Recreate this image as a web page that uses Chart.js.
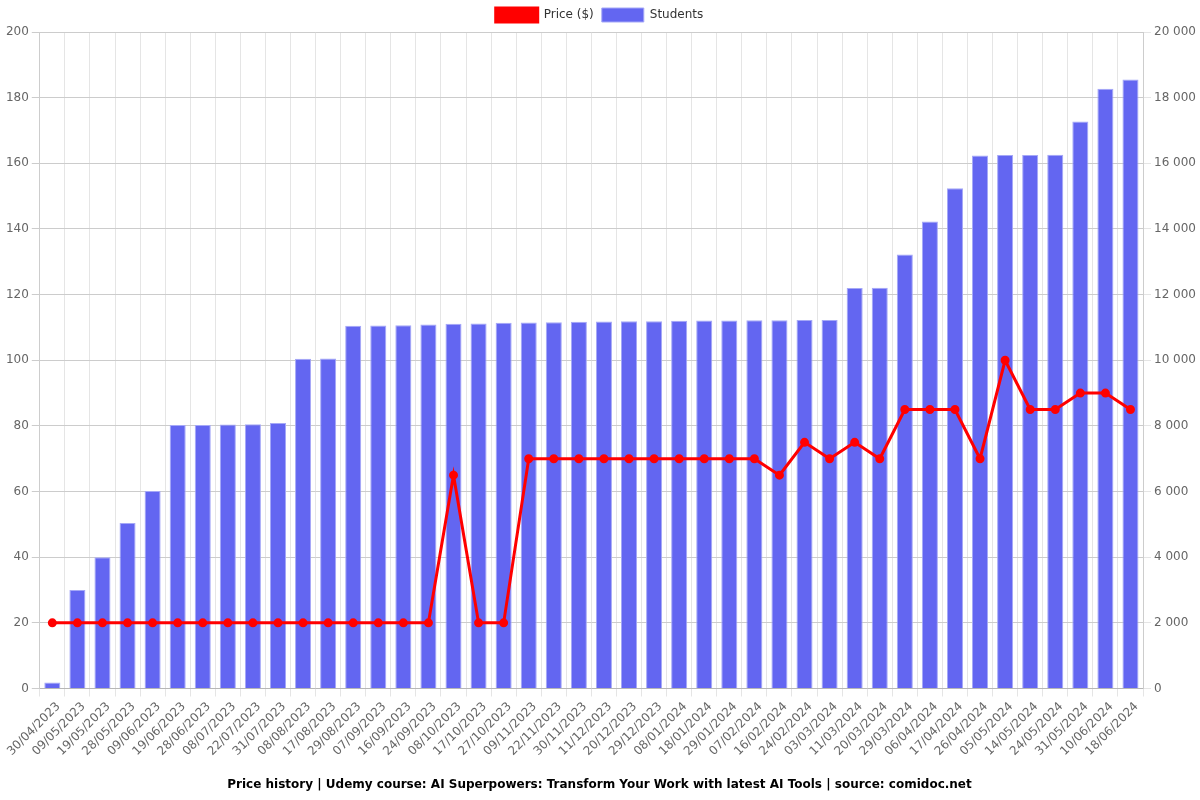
<!DOCTYPE html>
<html>
<head>
<meta charset="utf-8">
<script src="https://cdn.jsdelivr.net/npm/chart.js@4/dist/chart.umd.min.js"></script>
<style>
html,body{margin:0;padding:0;background:#fff;}
#wrap{width:1200px;height:800px;position:relative;}
</style>
</head>
<body>
<div id="wrap"><canvas id="c" width="1200" height="800"></canvas></div>
<script>
const categories = ["30/04/2023","09/05/2023","19/05/2023","28/05/2023","09/06/2023","19/06/2023","28/06/2023","08/07/2023","22/07/2023","31/07/2023","08/08/2023","17/08/2023","29/08/2023","07/09/2023","16/09/2023","24/09/2023","08/10/2023","17/10/2023","27/10/2023","09/11/2023","22/11/2023","30/11/2023","11/12/2023","20/12/2023","29/12/2023","08/01/2024","18/01/2024","29/01/2024","07/02/2024","16/02/2024","24/02/2024","03/03/2024","11/03/2024","20/03/2024","29/03/2024","06/04/2024","17/04/2024","26/04/2024","05/05/2024","14/05/2024","24/05/2024","31/05/2024","10/06/2024","18/06/2024"];
const price = [20,20,20,20,20,20,20,20,20,20,20,20,20,20,20,20,65,20,20,70,70,70,70,70,70,70,70,70,70,65,75,70,75,70,85,85,85,70,100,85,85,90,90,85];
const students = [180,3000,4000,5040,6015,8030,8030,8040,8050,8090,10045,10050,11050,11060,11070,11090,11110,11120,11140,11150,11160,11170,11180,11190,11190,11200,11210,11210,11220,11220,11230,11230,12200,12210,13220,14230,15240,16240,16250,16250,16260,17270,18270,18550];
const priceTicks = {min:0, max:200, step:20};
const studentTicks = {min:0, max:20000, step:2000};
const titleText = "Price history | Udemy course: AI Superpowers: Transform Your Work with latest AI Tools | source: comidoc.net";

Chart.defaults.font.family = "'DejaVu Sans', sans-serif";
Chart.defaults.font.size = 12;
Chart.defaults.color = '#666';

function fmt(v){ return String(v).replace(/\B(?=(\d{3})+(?!\d))/g, ' '); }

new Chart(document.getElementById('c'), {
  data: {
    labels: categories,
    datasets: [
      {
        type: 'line',
        label: 'Price ($)',
        data: price,
        yAxisID: 'y',
        borderColor: '#ff0000',
        backgroundColor: '#ff0000',
        borderWidth: 3,
        pointRadius: 3,
        pointHoverRadius: 3,
        pointBackgroundColor: '#ff0000',
        pointBorderColor: '#ff0000',
        tension: 0,
        order: 0
      },
      {
        type: 'bar',
        label: 'Students',
        data: students,
        yAxisID: 'y1',
        backgroundColor: '#6366f1',
        borderColor: '#a5a8f7',
        borderWidth: 1,
        categoryPercentage: 0.8,
        barPercentage: 0.8,
        order: 1
      }
    ]
  },
  options: {
    responsive: false,
    animation: false,
    layout: {padding: {left: 0, right: 1, top: 0, bottom: 4}},
    plugins: {
      legend: {
        position: 'top',
        labels: {boxWidth: 42, boxHeight: 14, padding: 8, color: '#333', font: {size: 12}}
      },
      title: {
        display: true,
        text: titleText,
        position: 'bottom',
        color: '#000',
        font: {size: 12, weight: 'bold'},
        padding: {top: 16, bottom: 4}
      },
      tooltip: {enabled: false}
    },
    scales: {
      x: {
        grid: {color: '#e5e5e5', offset: true},
        ticks: {maxRotation: 45, minRotation: 45, autoSkip: false, labelOffset: 6, color: '#666'}
      },
      y: {
        position: 'left',
        min: priceTicks.min, max: priceTicks.max,
        ticks: {stepSize: priceTicks.step, color: '#666'},
        grid: {color: '#cccccc'}
      },
      y1: {
        position: 'right',
        min: studentTicks.min, max: studentTicks.max,
        ticks: {stepSize: studentTicks.step, color: '#666', callback: v => fmt(v)},
        grid: {drawOnChartArea: false}
      }
    }
  }
});
</script>
</body>
</html>
